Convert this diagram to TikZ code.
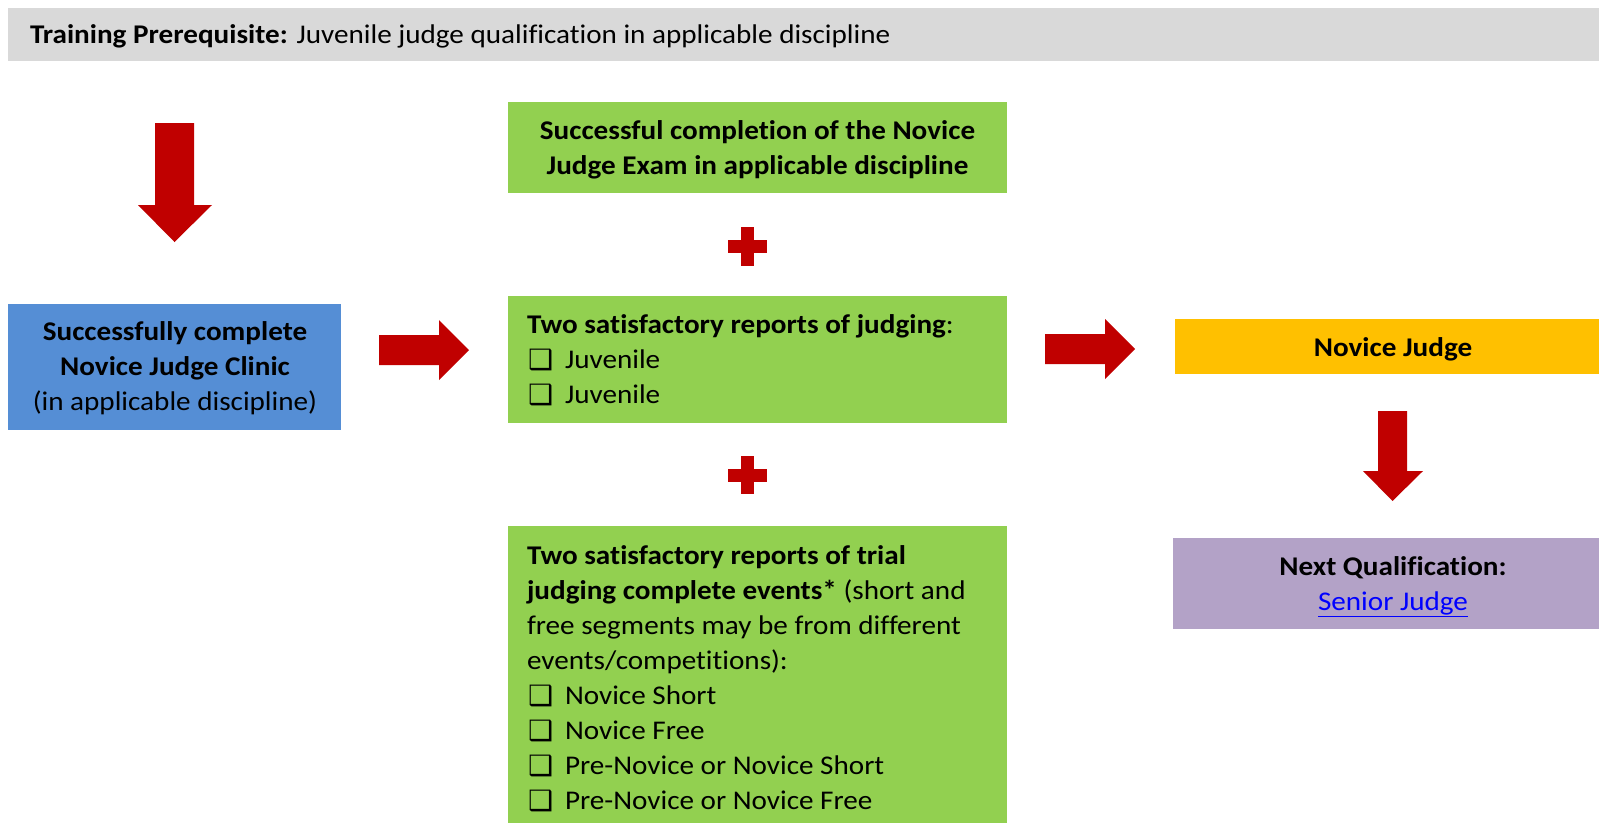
\documentclass[tikz,border=0pt]{standalone}
\usepackage{fontspec}
\setmainfont{Carlito}[Ligatures=NoCommon,FakeStretch=1.08]
\newfontfamily\djv{DejaVu Sans}
\definecolor{barGray}{HTML}{D9D9D9}
\definecolor{boxBlue}{HTML}{558ED5}
\definecolor{boxGreen}{HTML}{92D050}
\definecolor{boxYellow}{HTML}{FFC000}
\definecolor{boxPurple}{HTML}{B3A2C7}
\definecolor{arrRed}{HTML}{C00000}
\definecolor{linkBlue}{HTML}{0000FF}
\newcommand{\cbx}{\makebox[38pt][l]{\hspace{1pt}\raisebox{-1pt}{\djv\fontsize{28}{28}\selectfont ❑}}}
\begin{document}
\begin{tikzpicture}[x=1pt,y=-1pt,
  every node/.style={inner sep=0pt,outer sep=0pt},
  panel/.style={anchor=north west,minimum width=#1},
  txt/.style={font=\fontsize{27}{35}\selectfont,anchor=base},
  txtl/.style={font=\fontsize{27}{35}\selectfont,anchor=base west},
  blockarrow/.style={fill=arrRed,draw=none},
  plussign/.style={fill=arrRed,draw=none}]
\useasboundingbox (0,0) rectangle (1599,823);

% top bar
\node[panel=1591pt,minimum height=53pt,fill=barGray] (bar) at (8,8) {};
\node[txtl] (bartxt) at (30,43) {\textbf{Training Prerequisite:} Juvenile judge qualification in applicable discipline};

% left down arrow
\fill[blockarrow] (155,123) -- (194,123) -- (194,205) -- (212,205) -- (174.5,242) -- (138,205) -- (155,205) -- cycle;

% blue box
\node[panel=333pt,minimum height=126pt,fill=boxBlue] (clinic) at (8,304) {};
\node[txt] (clinic1) at (175,340) {\textbf{Successfully complete}};
\node[txt] (clinic2) at (175,375) {\textbf{Novice Judge Clinic}};
\node[txt] (clinic3) at (175,410) {(in applicable discipline)};

% arrow blue -> green
\fill[blockarrow] (379,335) -- (439,335) -- (439,320) -- (469,350) -- (439,380) -- (439,365) -- (379,365) -- cycle;

% green top
\node[panel=499pt,minimum height=91pt,fill=boxGreen] (exam) at (508,102) {};
\node[txt] (exam1) at (757.5,139) {\textbf{Successful completion of the Novice}};
\node[txt] (exam2) at (757.5,174) {\textbf{Judge Exam in applicable discipline}};

% plus 1
\fill[plussign] (741,227) rectangle (754,266);
\fill[plussign] (728,240) rectangle (767,253);

% green middle
\node[panel=499pt,minimum height=127pt,fill=boxGreen] (reports) at (508,296) {};
\node[txtl] (rep1) at (527,333) {\textbf{Two satisfactory reports of judging}:};
\node[txtl] (rep2) at (527,368) {\cbx Juvenile};
\node[txtl] (rep3) at (527,403) {\cbx Juvenile};

% plus 2
\fill[plussign] (741,456) rectangle (754,494);
\fill[plussign] (728,469) rectangle (767,482);

% green bottom
\node[panel=499pt,minimum height=297pt,fill=boxGreen] (trial) at (508,526) {};
\node[txtl] (tr1) at (527,564) {\textbf{Two satisfactory reports of trial}};
\node[txtl] (tr2) at (527,599) {\textbf{judging complete events*} (short and};
\node[txtl] (tr3) at (527,634) {free segments may be from different};
\node[txtl] (tr4) at (527,669) {events/competitions):};
\node[txtl] (tr5) at (527,704) {\cbx Novice Short};
\node[txtl] (tr6) at (527,739) {\cbx Novice Free};
\node[txtl] (tr7) at (527,774) {\cbx Pre-Novice or Novice Short};
\node[txtl] (tr8) at (527,809) {\cbx Pre-Novice or Novice Free};

% arrow green -> yellow
\fill[blockarrow] (1045,334) -- (1105,334) -- (1105,319) -- (1135,349) -- (1105,379) -- (1105,364) -- (1045,364) -- cycle;

% yellow
\node[panel=424pt,minimum height=55pt,fill=boxYellow] (novice) at (1175,319) {};
\node[txt] (novicetxt) at (1393,356) {\textbf{Novice Judge}};

% right down arrow
\fill[blockarrow] (1378,411) -- (1407,411) -- (1407,471) -- (1423,471) -- (1392.5,501) -- (1363,471) -- (1378,471) -- cycle;

% purple
\node[panel=426pt,minimum height=91pt,fill=boxPurple] (next) at (1173,538) {};
\node[txt] (next1) at (1393,575) {\textbf{Next Qualification:}};
\node[txt] (next2) at (1393,610) {\color{linkBlue}\underline{Senior Judge}};
\end{tikzpicture}
\end{document}
